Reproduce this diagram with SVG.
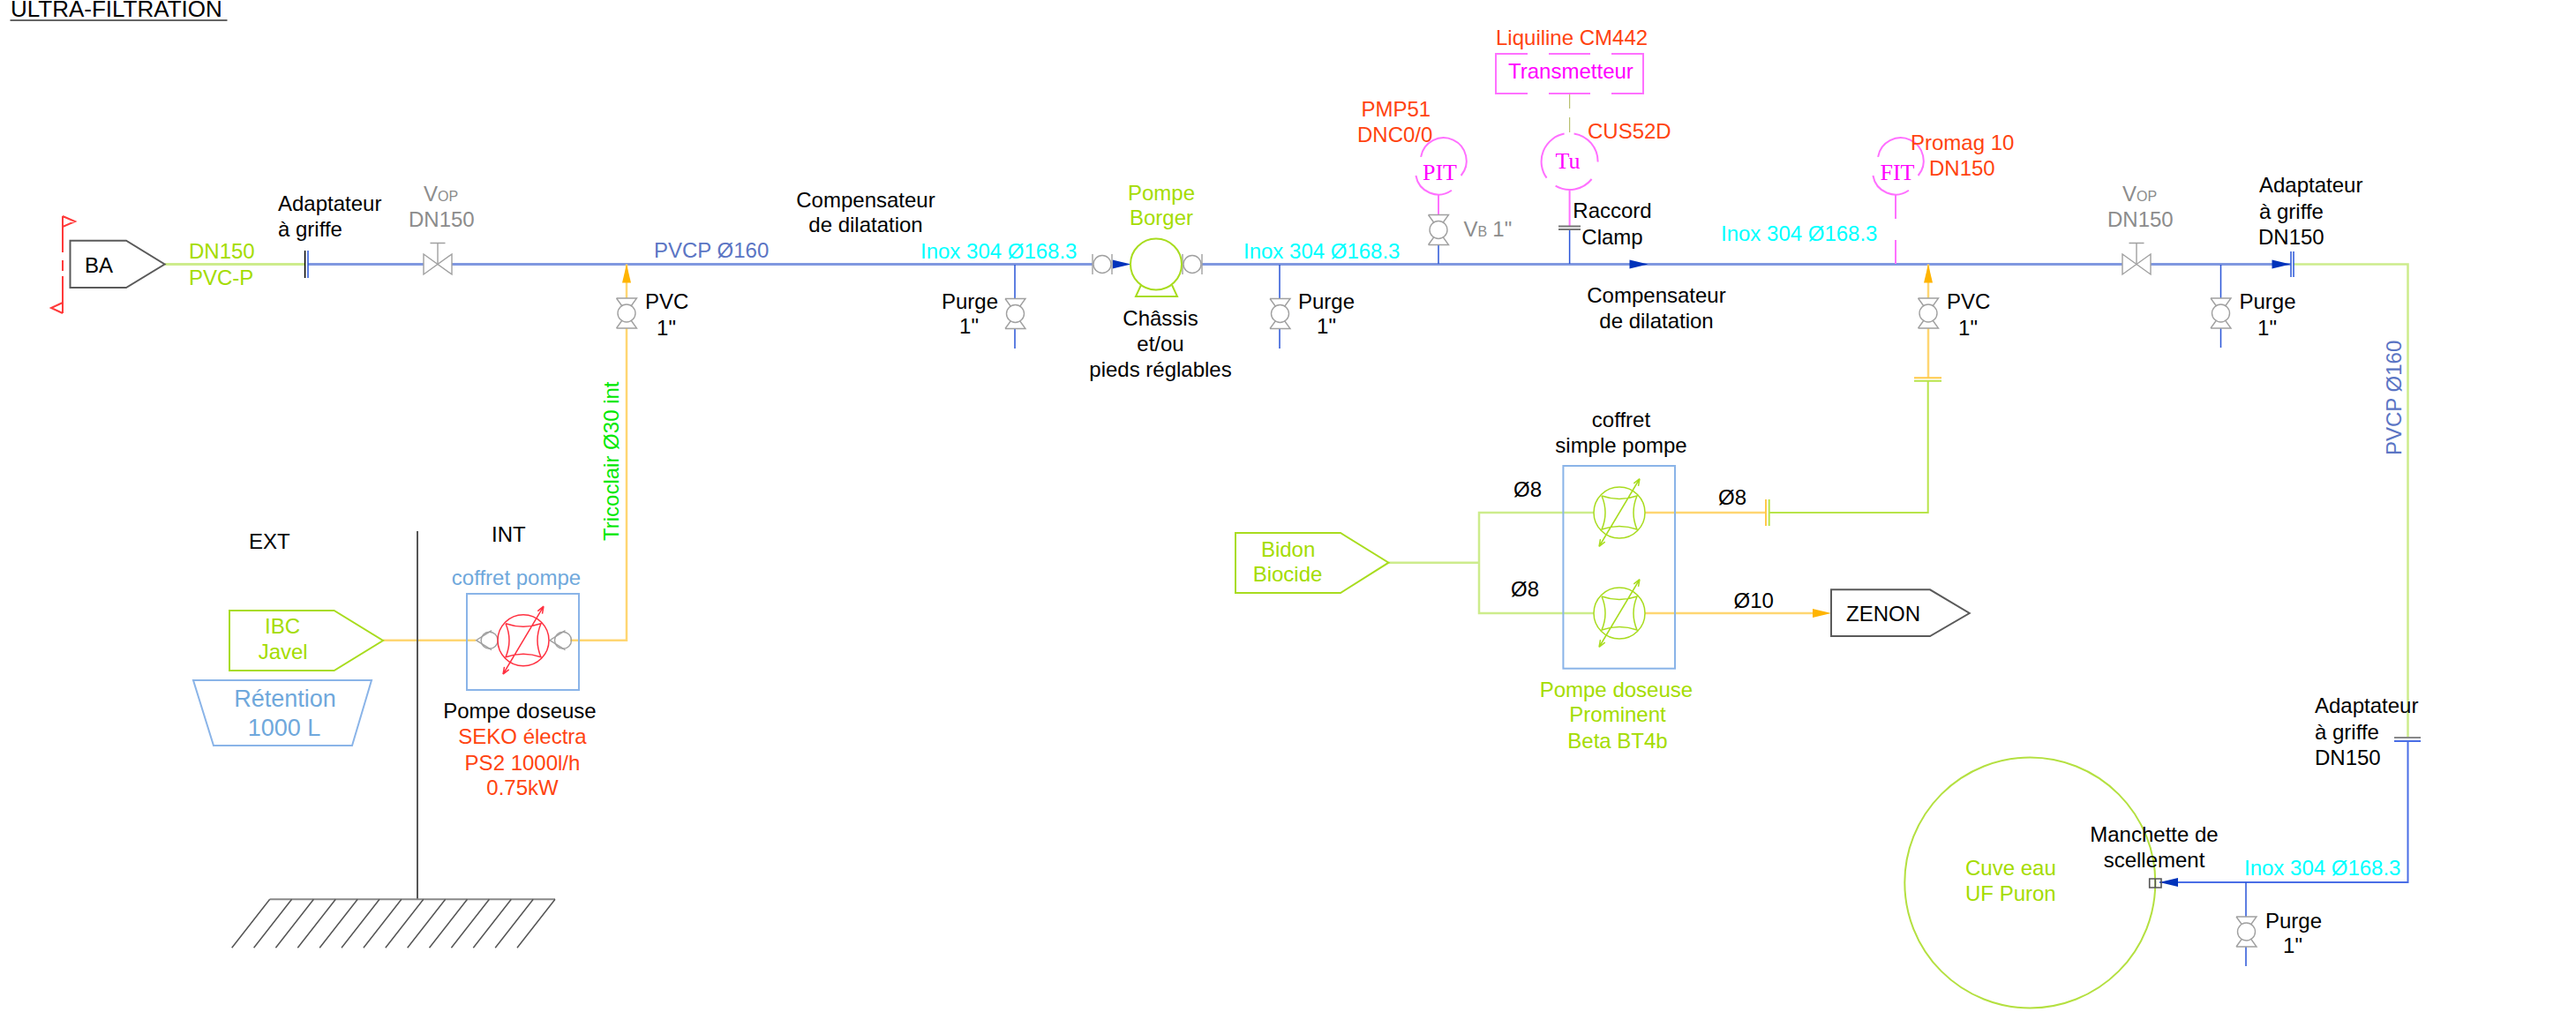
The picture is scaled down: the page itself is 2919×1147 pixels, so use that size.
<svg xmlns="http://www.w3.org/2000/svg" width="2919" height="1147" viewBox="0 0 2919 1147">
<style>
text{font-family:"Liberation Sans",Arial,sans-serif;font-size:24px;fill:#000}
.m{text-anchor:middle}
.cy{fill:#00ffff}.gn{fill:#a4dc00}.or{fill:#ff4310}.gy{fill:#8c8c8c}.mg{fill:#ff00ff}.pb{fill:#5b75c4}.lb{fill:#6fa8dc}.lime{fill:#00e800}
.ser{font-family:"Liberation Serif","Times New Roman",serif;font-size:26px;fill:#ff00ff}
.sm{font-size:16px}
.l{fill:none;stroke-linejoin:miter}
.main{stroke:#8098e0;stroke-width:3}
.bl{stroke:#2a55d8;stroke-width:1.5}
.bl2{stroke:#4a6ee6;stroke-width:2}
.gl{stroke:#cdec8c;stroke-width:3}
.gl2{stroke:#b8e44a;stroke-width:2}
.ol{stroke:#ffd672;stroke-width:3}
.vg{fill:#fff;stroke:#a0a0a0;stroke-width:1.4}
.vn{fill:none;stroke:#a0a0a0;stroke-width:1.4}
.a1{fill:#0033bb}.a2{fill:#ffb400}
.box{fill:none;stroke:#8ab4e8;stroke-width:2}
.gs{fill:none;stroke:#a8dc1e;stroke-width:2}
.bk{fill:#fff;stroke:#5a5a5a;stroke-width:2}
.ms{fill:none;stroke:#ff70ff;stroke-width:2}
.pr{fill:none;stroke-width:1.5;stroke:currentColor}
.dk{stroke:#555;stroke-width:1.5;fill:none}
</style>
<defs>
<g id="bv"><path class="vn" d="M-11.5,-17H11.5L5,-8M-11.5,-17L-5,-8M-11.5,17H11.5L5,8M-11.5,17L-5,8"/><circle class="vg" r="10"/></g>
<g id="gv"><path class="vg" d="M-16,-11.5L16,11.5V-11.5L-16,11.5Z"/><path class="vn" d="M0,0V-24M-8.5,-24H8.5"/></g>
<g id="fc"><path class="vn" d="M-11,-11.5V11.5M11,-11.5V11.5"/><circle class="vn" r="10"/></g>
<g id="cv"><path class="vn" d="M2.5,-11L-15,0L2.5,11"/><circle class="vn" r="9.5"/></g>
<g id="dp"><circle class="pr" r="29"/><path class="pr" d="M-20,-19Q0,-12 20,-19Q12,0 20,19Q0,12 -20,19Q-12,0 -20,-19M-23,38.5L23,-38.5M23,-38.5L21.5,-30.1M23,-38.5L16.3,-33.1M-23,38.5L-21.5,30.1M-23,38.5L-16.3,33.1"/></g>
<path id="ci" class="ms" d="M-19.9,-16.7A26,26 0 1 1 25.6,4.5M14.9,21.3A26,26 0 0 1 -25.6,4.5"/>
<path id="ar" d="M0,0L-21,-5V5Z"/>
</defs>

<text id="title" x="12" y="19" style="font-size:26px">ULTRA-FILTRATION</text>
<path d="M11.5,23H257.5" stroke="#666" stroke-width="2" fill="none"/>

<g id="connectors">
<path class="l gl" d="M187,299.5H346"/>
<path class="l main" d="M349,299.5H480M512,299.5H1238M1362,299.5H2405M2437,299.5H2596"/>
<path class="l gl" d="M2599,299.5H2728.5V836" style="stroke-width:2.5"/>
<path class="l bl2" d="M2728.5,840V1000H2447"/>
<path class="l bl" d="M1150,300V338M1150,372V395M1450,300V338M1450,372V395M2516.5,300V338M2516.5,372V394M2545,1000V1039M2545,1073V1095M1630,277V299M1778.6,260V299"/>
<path class="l" stroke="#ff70ff" stroke-width="2" d="M1630,221V244M1778.6,215V257M2148,221V248M2148,272V299"/>
<path class="l" stroke="#b8c070" stroke-width="1.2" d="M1778.6,106V123M1778.6,133V150"/>
<path class="l ol" d="M710,299.5V338M710,372V725.7H646M434,725.7H539M2185,299.5V338M2185,372V428M1864,581H2001M1864,695H2055" style="stroke-width:2.5"/>
<path class="l gl2" d="M2005,581H2184.7V432"/>
<path class="l gl" d="M1573.5,637.7H1676M1806,581H1676V695H1806" style="stroke-width:2.5"/>
<path d="M1766,256.5H1791M1766,260H1791" stroke="#777" stroke-width="2" fill="none"/>
<use href="#ar" class="a1" transform="translate(1281.7,299.5)"/>
<use href="#ar" class="a1" transform="translate(1867.5,299.5)"/>
<use href="#ar" class="a1" transform="translate(2595.5,299.5)"/>
<use href="#ar" class="a1" transform="translate(2447,1000) rotate(180)"/>
<use href="#ar" class="a2" transform="translate(710,299.5) rotate(-90)"/>
<use href="#ar" class="a2" transform="translate(2185,299.5) rotate(-90)"/>
<use href="#ar" class="a2" transform="translate(2075,695)"/>
<path d="M345.6,284V315" stroke="#000" stroke-width="1.5" fill="none"/>
<path d="M349,284V315M2596,285V314M2599,285V314" stroke="#2a55d8" stroke-width="1.5" fill="none"/>
<path d="M2713,836H2743" stroke="#888" stroke-width="2" fill="none"/>
<path d="M2713,840H2743" stroke="#4a6ee6" stroke-width="2" fill="none"/>
<path d="M2169,428.3H2200M2001,566V596" stroke="#ffc94a" stroke-width="2" fill="none"/>
<path d="M2169,431.7H2200M2004.7,566V596" stroke="#b8e44a" stroke-width="2" fill="none"/>
</g>

<g id="limit"><path fill="none" stroke="#ff3a3a" stroke-width="2" d="M71,245V286M71,295V307M71,313V355M71,245L85,251L71,257M71,343L58,349L71,355"/></g>

<g id="ba"><path class="bk" d="M79.5,272.7H143L186.6,299.5L143,326H79.5Z"/><text x="96" y="309">BA</text></g>
<g id="dn150-pvcp"><text class="gn" x="214" y="292.7">DN150</text><text class="gn" x="214" y="322.7">PVC-P</text></g>
<g id="adapt1"><text x="315" y="239">Adaptateur</text><text x="315" y="268">à griffe</text></g>
<g id="vop1"><use href="#gv" x="496" y="299.5"/><text x="480" y="228" class="gy">V<tspan class="sm">OP</tspan></text><text x="463" y="257" class="gy">DN150</text></g>
<g id="pvc1"><use href="#bv" x="710" y="355"/><text x="731" y="350">PVC</text><text x="755" y="380" class="m">1"</text></g>
<text id="pvcp-label" x="741" y="292" class="pb">PVCP Ø160</text>
<text id="tricoclair" class="lime" transform="translate(701,613) rotate(-90)">Tricoclair Ø30 int</text>
<g id="comp1"><text x="981" y="235" class="m">Compensateur</text><text x="981" y="263" class="m">de dilatation</text></g>
<text id="inox1" x="1043" y="293" class="cy">Inox 304 Ø168.3</text>
<g id="purge1"><use href="#bv" x="1150.5" y="355.5"/><text x="1067" y="350">Purge</text><text x="1098" y="378" class="m">1"</text></g>
<g id="pump"><use href="#fc" x="1249" y="299.5"/><use href="#fc" x="1351" y="299.5"/>
<circle cx="1310" cy="299.5" r="29" class="gs"/><path class="gs" d="M1293,323L1287,336H1334L1328,323"/>
<text x="1316" y="227" class="m gn">Pompe</text><text x="1316" y="255" class="m gn">Borger</text>
<text x="1315" y="369" class="m">Châssis</text><text x="1315" y="398" class="m">et/ou</text><text x="1315" y="427" class="m">pieds réglables</text></g>
<text id="inox2" x="1409" y="293" class="cy">Inox 304 Ø168.3</text>
<g id="purge2"><use href="#bv" x="1450.5" y="355.5"/><text x="1471" y="350">Purge</text><text x="1503" y="378" class="m">1"</text></g>
<g id="pit"><use href="#ci" x="1630" y="194.5"/><text x="1631.5" y="204" class="ser m">PIT</text><text x="1542.5" y="132" class="or">PMP51</text><text x="1538" y="161" class="or">DNC0/0</text>
<use href="#bv" x="1630" y="260.5"/><text x="1658.6" y="268" class="gy">V<tspan class="sm">B</tspan><tspan dx="6">1"</tspan></text></g>
<g id="transmetteur"><path class="ms" d="M1731,61H1695V106H1731M1755,61H1802M1755,106H1802M1826,61H1862V106H1826"/><text x="1709" y="89" class="mg">Transmetteur</text><text x="1695" y="51" class="or">Liquiline CM442</text></g>
<g id="tu"><path class="ms" d="M5,-31.6A32,32 0 0 1 32,0.5M25,20A32,32 0 0 1 -16,27.7M-26,18.7A32,32 0 0 1 -6,-31.4" transform="translate(1778.6,183)"/><text x="1776.5" y="191" class="ser m">Tu</text><text x="1799" y="157" class="or">CUS52D</text></g>
<g id="clamp"><text x="1827" y="247" class="m">Raccord</text><text x="1827" y="277" class="m">Clamp</text></g>
<g id="comp2"><text x="1877" y="343" class="m">Compensateur</text><text x="1877" y="372" class="m">de dilatation</text></g>
<text id="inox3" x="1950" y="273" class="cy">Inox 304 Ø168.3</text>
<g id="fit"><use href="#ci" x="2148" y="194.5"/><text x="2150" y="204" class="ser m">FIT</text><text x="2165" y="170" class="or">Promag 10</text><text x="2186" y="199" class="or">DN150</text></g>
<g id="pvc2"><use href="#bv" x="2185" y="355"/><text x="2206" y="350">PVC</text><text x="2230" y="380" class="m">1"</text></g>
<g id="vop2"><use href="#gv" x="2421" y="299.5"/><text x="2405" y="228" class="gy">V<tspan class="sm">OP</tspan></text><text x="2388" y="257" class="gy">DN150</text></g>
<g id="purge3"><use href="#bv" x="2516.5" y="355"/><text x="2537.5" y="350">Purge</text><text x="2569" y="380" class="m">1"</text></g>
<g id="adapt2"><text x="2560" y="218">Adaptateur</text><text x="2560" y="248">à griffe</text><text x="2559" y="277">DN150</text></g>
<text id="pvcp-vert" class="pb" transform="translate(2721,516) rotate(-90)">PVCP Ø160</text>

<g id="ground"><path class="dk" d="M473,602V1019.3" style="stroke-width:2"/><path class="dk" d="M305.7,1019.3H629" style="stroke:#888;stroke-width:2"/>
<path class="dk" d="M305.7,1019.3l-43,55M330.6,1019.3l-43,55M355.4,1019.3l-43,55M380.3,1019.3l-43,55M405.2,1019.3l-43,55M430,1019.3l-43,55M454.9,1019.3l-43,55M479.8,1019.3l-43,55M504.7,1019.3l-43,55M529.5,1019.3l-43,55M554.4,1019.3l-43,55M579.3,1019.3l-43,55M604.2,1019.3l-43,55M629,1019.3l-43,55"/>
<text x="282" y="622">EXT</text><text x="557" y="614">INT</text></g>
<g id="ibc"><path class="gs" d="M260,692H378.6L434,726L378.6,760H260Z"/><text x="320" y="718" class="m gn">IBC</text><text x="320.7" y="747" class="m gn">Javel</text></g>
<g id="retention"><path class="box" d="M219,771H421L399,845H242Z"/><text x="323" y="801" class="m lb" style="font-size:27px">Rétention</text><text x="322" y="834" class="m lb" style="font-size:27px">1000 L</text></g>
<g id="dosing-red"><rect x="529" y="673" width="127" height="109" class="box"/><text x="585" y="663" class="m lb">coffret pompe</text>
<use href="#cv" x="554.6" y="725.7"/><use href="#cv" x="638" y="725.7"/><use href="#dp" x="593" y="725.7" style="color:#ff3040"/>
<text x="589" y="814" class="m">Pompe doseuse</text><text x="592" y="843" class="m or">SEKO électra</text><text x="592" y="873" class="m or">PS2 1000l/h</text><text x="592" y="901" class="m or">0.75kW</text></g>

<g id="bidon"><path class="gs" d="M1400,604H1519L1573.5,637.7L1519,672H1400Z"/><text x="1459.6" y="630.7" class="m gn">Bidon</text><text x="1459" y="659" class="m gn">Biocide</text></g>
<g id="dosing-green"><rect x="1771.4" y="528" width="126.6" height="229.7" class="box"/>
<use href="#dp" x="1835" y="581" style="color:#a8dc1e"/><use href="#dp" x="1835" y="695" style="color:#a8dc1e"/>
<text x="1837" y="484" class="m">coffret</text><text x="1837" y="513" class="m">simple pompe</text>
<text x="1715" y="563">Ø8</text><text x="1712" y="676">Ø8</text><text x="1947" y="572">Ø8</text><text x="1964.5" y="689">Ø10</text>
<text x="1831.4" y="790" class="m gn">Pompe doseuse</text><text x="1833" y="818" class="m gn">Prominent</text><text x="1833" y="848" class="m gn">Beta BT4b</text></g>
<g id="zenon"><path class="bk" d="M2075,668.3H2187L2231.7,695L2187,721H2075Z"/><text x="2092" y="704">ZENON</text></g>

<g id="tank"><circle cx="2300.3" cy="1000.5" r="142" fill="none" stroke="#b4e040" stroke-width="2"/><text x="2227" y="991.7" class="gn">Cuve eau</text><text x="2227" y="1020.7" class="gn">UF Puron</text></g>
<g id="manchette"><path fill="none" stroke="#555" stroke-width="1.6" d="M2435.7,996H2449V1006H2435.7ZM2442.3,996V1006"/><text x="2441" y="954" class="m">Manchette de</text><text x="2441" y="983" class="m">scellement</text></g>
<g id="adapt3"><text x="2623" y="808">Adaptateur</text><text x="2623" y="838">à griffe</text><text x="2623" y="867">DN150</text></g>
<text id="inox4" x="2543" y="992" class="cy">Inox 304 Ø168.3</text>
<g id="purge4"><use href="#bv" x="2545.5" y="1056"/><text x="2567" y="1052">Purge</text><text x="2598" y="1080" class="m">1"</text></g>
</svg>
